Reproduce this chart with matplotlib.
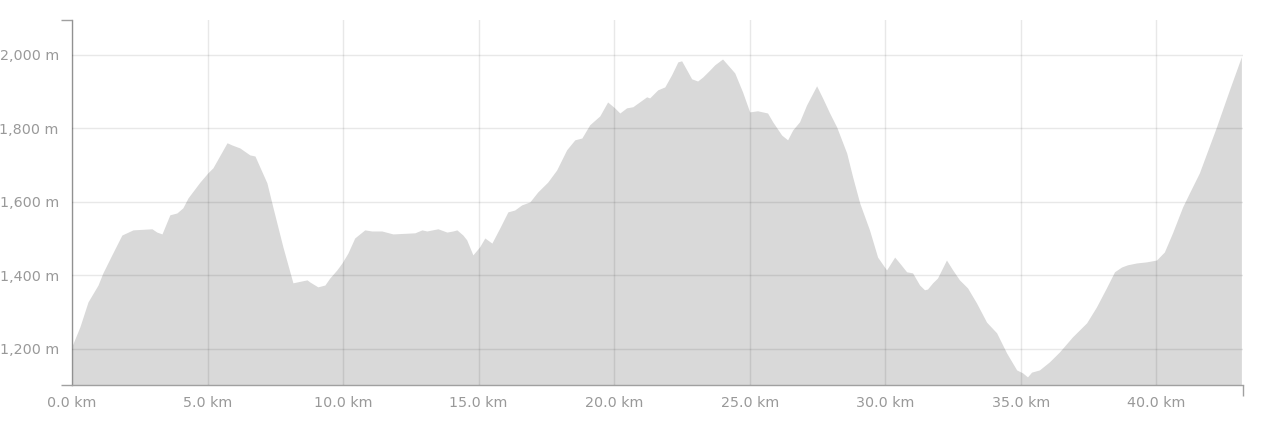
import matplotlib
matplotlib.use("Agg")
import matplotlib.pyplot as plt
from matplotlib.ticker import FuncFormatter

# distance along route (km) and elevation (m)
dist_km = [0.00, 0.29, 0.59, 0.96, 1.14, 1.47, 1.84, 2.25, 2.95, 3.13, 3.32, 3.61,
           3.87, 4.09, 4.28, 4.72, 5.01, 5.20, 5.72, 5.90, 6.19, 6.56, 6.75, 6.93,
           7.19, 7.41, 7.78, 8.15, 8.67, 8.78, 9.07, 9.33, 9.51, 9.77, 9.96, 10.18,
           10.43, 10.80, 11.06, 11.43, 11.84, 12.65, 12.91, 13.09, 13.50, 13.83, 14.05,
           14.20, 14.42, 14.56, 14.79, 15.04, 15.23, 15.49, 15.78, 16.08, 16.33, 16.59,
           16.89, 17.18, 17.55, 17.88, 18.25, 18.55, 18.81, 19.10, 19.47, 19.76, 20.02,
           20.21, 20.46, 20.69, 21.20, 21.31, 21.61, 21.87, 22.12, 22.35, 22.49, 22.68,
           22.86, 23.08, 23.27, 23.53, 23.71, 24.00, 24.19, 24.45, 24.74, 25.00, 25.29,
           25.66, 25.85, 26.18, 26.40, 26.59, 26.84, 27.10, 27.47, 27.69, 27.95, 28.21,
           28.58, 28.80, 29.06, 29.42, 29.72, 30.05, 30.35, 30.53, 30.79, 31.01, 31.27,
           31.45, 31.56, 31.75, 31.93, 32.26, 32.49, 32.74, 33.04, 33.37, 33.74, 34.11,
           34.48, 34.85, 35.07, 35.25, 35.40, 35.69, 36.06, 36.43, 36.91, 37.43, 37.79,
           38.16, 38.46, 38.72, 38.94, 39.27, 39.64, 40.01, 40.30, 40.60, 40.97, 41.22,
           41.59, 42.22, 42.70, 43.14]
elev_m = [1208, 1260, 1328, 1374, 1407, 1456, 1510, 1524, 1527, 1518, 1513, 1565,
          1570, 1584, 1611, 1654, 1679, 1693, 1761, 1755, 1747, 1728, 1725, 1695,
          1652, 1586, 1478, 1380, 1388, 1382, 1369, 1374, 1393, 1415, 1434, 1461,
          1502, 1524, 1521, 1521, 1513, 1516, 1524, 1521, 1527, 1518, 1521,
          1524, 1510, 1497, 1456, 1478, 1502, 1488, 1529, 1573, 1578, 1592,
          1600, 1627, 1654, 1687, 1742, 1769, 1774, 1810, 1834, 1872, 1856,
          1842, 1856, 1859, 1886, 1883, 1905, 1913, 1946, 1981, 1984, 1959,
          1935, 1929, 1940, 1959, 1973, 1989, 1973, 1951, 1899, 1845, 1848,
          1842, 1818, 1782, 1769, 1796, 1818, 1864, 1916, 1883, 1842, 1804,
          1733, 1668, 1597, 1524, 1450, 1415, 1450, 1434, 1410, 1407, 1374,
          1361, 1363, 1380, 1393, 1442, 1415, 1388, 1366, 1325, 1273, 1244,
          1189, 1143, 1135, 1124, 1137, 1143, 1165, 1192, 1233, 1271, 1314,
          1366, 1410, 1423, 1429, 1434, 1437, 1442, 1464, 1516, 1586, 1624,
          1679, 1804, 1905, 1995]

x_ticks = [0, 5, 10, 15, 20, 25, 30, 35, 40]
y_ticks = [1200, 1400, 1600, 1800, 2000]

plt.rcParams['font.family'] = ['DejaVu Sans']

fig = plt.figure(figsize=(12.62, 4.24), dpi=100)
ax = fig.add_axes([72 / 1262, 39 / 424, (1243 - 72) / 1262, 365 / 424])

ax.fill_between(dist_km, elev_m, 1000, color='#d9d9d9', lw=0, zorder=1)

ax.set_xlim(0, 43.2)
ax.set_ylim(1102, 2095)
ax.set_xticks(x_ticks)
ax.set_yticks(y_ticks)
ax.xaxis.set_major_formatter(FuncFormatter(lambda v, p: f'{v:.1f} km'))
ax.yaxis.set_major_formatter(FuncFormatter(lambda v, p: f'{v:,.0f} m'))
ax.tick_params(which='major', length=0, labelsize=10.3, labelcolor='#999999')
ax.tick_params(axis='x', pad=8)
ax.tick_params(axis='y', pad=9.5)

# small end ticks on the axis lines
ax.set_xticks([0, 43.2], minor=True)
ax.set_yticks([1102, 2095], minor=True)
ax.tick_params(which='minor', length=8, width=1, color='#a0a0a0')

ax.grid(True, which='major', color='black', alpha=0.09, lw=1, zorder=2)
ax.set_axisbelow(False)

for side in ['top', 'right']:
    ax.spines[side].set_visible(False)
for side in ['left', 'bottom']:
    ax.spines[side].set_color('#a0a0a0')
    ax.spines[side].set_linewidth(1)

plt.savefig('out.png', dpi=100)
